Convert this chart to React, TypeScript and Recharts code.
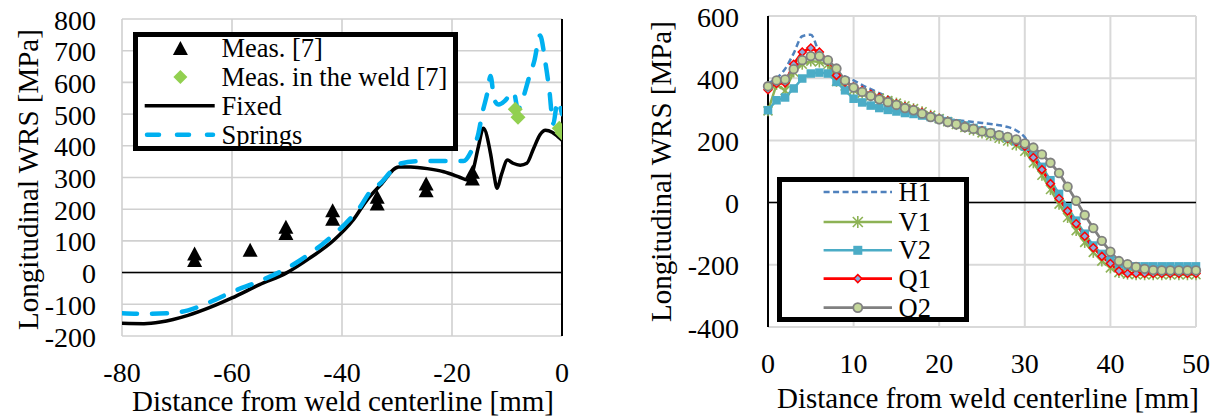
import React from 'react';
import {
  ComposedChart,
  LineChart,
  Line,
  Scatter,
  XAxis,
  YAxis,
  CartesianGrid,
  ReferenceLine,
} from 'recharts';

const FONT = '"Liberation Serif", "Times New Roman", Times, serif';

// ---------- left chart data ----------
const leftXTicks = [-80, -60, -40, -20, 0];
const leftYTicks = [-200, -100, 0, 100, 200, 300, 400, 500, 600, 700, 800];

const measX = [-66.8, -66.8, -56.7, -50.2, -50.2, -41.7, -41.7, -33.6, -33.6, -24.7, -24.7, -16.3, -16.3];
const measY = [60, 40, 72, 145, 125, 197, 170, 239, 218, 281, 260, 318, 297];

const weldX = [-8.5, -8.0, -0.5, 0];
const weldY = [515, 490, 455, 440];

const fixedX = [-80, -76, -73, -68, -64, -60, -55, -50, -46, -41.5, -38, -35.5, -33, -29.7, -27.5, -24.5, -21.5, -18.5, -17.2, -16.3, -15.2, -14.3, -13.0, -12.4, -11.8, -11, -9.9, -8.9, -7.6, -6.4, -5.2, -4, -3, -1.8, -0.8, 0];
const fixedY = [-160, -161, -156, -135, -110, -80, -38, 0, 44, 102, 165, 228, 276, 333, 333, 328, 318, 300, 292, 315, 397, 455, 376, 313, 266, 310, 355, 345, 339, 345, 390, 435, 449, 443, 430, 418];

const springsX = [-80, -76, -71, -68, -64, -60, -55, -51.3, -47.6, -43.4, -39.7, -36.7, -34.9, -33, -30.6, -29.4, -26.4, -21.5, -17.9, -16.4, -15.2, -14.5, -13.6, -13, -12.3, -11.5, -10.5, -9.5, -8.8, -8, -7.2, -6, -5, -4, -3, -2.3, -1.6, -0.8, 0];
const springsY = [-128, -130, -128, -119, -93, -61, -27, 2, 39, 92, 149, 207, 255, 282, 328, 344, 351, 352, 352, 386, 439, 502, 565, 620, 545, 530, 540, 560, 570, 515, 545, 615, 670, 748, 660, 575, 470, 540, 500];

// ---------- right chart data ----------
const rightXTicks = [0, 10, 20, 30, 40, 50];
const rightYTicks = [-400, -200, 0, 200, 400, 600];

const distance = [0, 1, 2, 3, 4, 5, 6, 7, 8, 9, 10, 11, 12, 13, 14, 15, 16, 17, 18, 19, 20, 21, 22, 23, 24, 25, 26, 27, 28, 29, 30, 31, 32, 33, 34, 35, 36, 37, 38, 39, 40, 41, 42, 43, 44, 45, 46, 47, 48, 49, 50];

const h1 = [383, 400, 430, 480, 535, 540, 480, 440, 420, 405, 393, 378, 365, 352, 340, 328, 316, 304, 293, 283, 275, 269, 265, 262, 259, 256, 253, 249, 243, 232, 210, 165, 110, 62, 18, -35, -78, -116, -145, -165, -185, -198, -205, -210, -210, -210, -210, -210, -210, -210, -210];
const v1 = [295, 380, 360, 420, 445, 455, 452, 445, 390, 375, 362, 352, 343, 336, 328, 320, 311, 302, 292, 281, 270, 260, 251, 242, 233, 224, 216, 207, 198, 185, 165, 128, 88, 42, -5, -48, -90, -128, -160, -188, -210, -225, -230, -232, -232, -232, -232, -232, -232, -232, -232];
const v2 = [297, 329, 338, 367, 399, 415, 418, 415, 388, 361, 334, 322, 312, 304, 298, 293, 288, 285, 280, 275, 269, 262, 255, 248, 240, 232, 225, 217, 208, 197, 180, 150, 115, 72, 28, -15, -58, -100, -138, -165, -185, -198, -203, -205, -205, -205, -205, -205, -205, -205, -205];
const q1 = [363, 383, 385, 445, 484, 497, 484, 455, 409, 388, 372, 360, 348, 338, 328, 318, 308, 300, 290, 279, 270, 261, 253, 245, 238, 231, 224, 216, 207, 196, 181, 145, 106, 61, 13, -27, -68, -108, -145, -173, -196, -220, -228, -228, -228, -228, -228, -228, -228, -228, -228];
const q2 = [374, 393, 396, 429, 458, 471, 471, 458, 431, 393, 370, 356, 343, 332, 323, 314, 304, 297, 286, 275, 268, 259, 252, 243, 237, 229, 224, 217, 211, 203, 190, 177, 155, 128, 95, 51, 6, -40, -82, -123, -158, -188, -198, -207, -213, -217, -218, -218, -218, -218, -218];

const C = {
  springs: '#00B0F0',
  weld: '#92D050',
  h1: '#4F81BD',
  v1: '#8DB255',
  v2: '#4BACC6',
  q1: '#FF0000',
  q1Fill: '#8EA9DB',
  q2: '#808080',
  q2Fill: '#C4D79B',
};

// ---------- marker shapes ----------
function Triangle({ cx, cy }: any) {
  if (cx == null || cy == null) return null;
  return <polygon points={`${cx},${cy - 7} ${cx - 7.5},${cy + 7} ${cx + 7.5},${cy + 7}`} fill="#000" />;
}

function Diamond({ cx, cy, r = 7, fill = C.weld, stroke = 'none', sw = 0 }: any) {
  if (cx == null || cy == null) return null;
  return (
    <polygon
      points={`${cx},${cy - r} ${cx + r},${cy} ${cx},${cy + r} ${cx - r},${cy}`}
      fill={fill}
      stroke={stroke}
      strokeWidth={sw}
    />
  );
}

function Star({ cx, cy, r = 4.5 }: any) {
  if (cx == null || cy == null) return null;
  return (
    <g stroke={C.v1} strokeWidth={1.6}>
      <line x1={cx - r} y1={cy - r} x2={cx + r} y2={cy + r} />
      <line x1={cx - r} y1={cy + r} x2={cx + r} y2={cy - r} />
      <line x1={cx} y1={cy - r - 1} x2={cx} y2={cy + r + 1} />
    </g>
  );
}

function Square({ cx, cy, s = 8.5 }: any) {
  if (cx == null || cy == null) return null;
  return <rect x={cx - s / 2} y={cy - s / 2} width={s} height={s} fill={C.v2} />;
}

function Circle({ cx, cy, r = 4.3 }: any) {
  if (cx == null || cy == null) return null;
  return <circle cx={cx} cy={cy} r={r} fill={C.q2Fill} stroke={C.q2} strokeWidth={1.8} />;
}

// ---------- ticks ----------
const tickStyle: React.CSSProperties = { fontFamily: FONT, fontSize: 28 };

const makeYTick = (gap: number) => (props: any) => {
  const { x, y, payload } = props;
  return (
    <text x={x - gap} y={y + 1} textAnchor="end" dominantBaseline="central" style={tickStyle} fill="#000">
      {payload.value}
    </text>
  );
};

const makeXTick = (drop: number) => (props: any) => {
  const { x, y, payload } = props;
  return (
    <text x={x} y={y + drop} textAnchor="middle" dominantBaseline="central" style={tickStyle} fill="#000">
      {payload.value}
    </text>
  );
};

const textStyle: React.CSSProperties = {
  position: 'absolute',
  fontFamily: FONT,
  fontSize: 29,
  lineHeight: '25px',
  height: 25,
  color: '#000',
  whiteSpace: 'nowrap',
  textAlign: 'center',
};

function AxisTitleX({ cx, cy, text }: { cx: number; cy: number; text: string }) {
  return <div style={{ ...textStyle, left: cx - 250, top: cy - 12.5, width: 500 }}>{text}</div>;
}

function AxisTitleY({ cx, cy, text }: { cx: number; cy: number; text: string }) {
  return (
    <div style={{ ...textStyle, left: cx - 200, top: cy - 12.5, width: 400, transform: 'rotate(-90deg)' }}>
      {text}
    </div>
  );
}

const legendText: React.CSSProperties = {
  position: 'absolute',
  fontFamily: FONT,
  fontSize: 26.5,
  lineHeight: '28px',
  whiteSpace: 'nowrap',
  color: '#000',
};

function LeftLegend() {
  const rows = [16, 45, 73.7, 102.7];
  const labels = ['Meas. [7]', 'Meas. in the weld [7]', 'Fixed', 'Springs'];
  return (
    <div
      style={{
        position: 'absolute',
        left: 133,
        top: 32,
        width: 325,
        height: 119,
        border: '5px solid #000',
        boxSizing: 'border-box',
        background: '#fff',
      }}
    >
      <svg width={315} height={109} style={{ position: 'absolute', left: 0, top: 0 }}>
        <Triangle cx={42.4} cy={rows[0] - 5} />
        <Diamond cx={42.4} cy={rows[1] - 5} r={7} />
        <line x1={6.7} x2={76.7} y1={rows[2] - 5} y2={rows[2] - 5} stroke="#000" strokeWidth={3.5} />
        <line x1={9} x2={75} y1={rows[3] - 5} y2={rows[3] - 5} stroke={C.springs} strokeWidth={4.5} strokeDasharray="12 18" strokeLinecap="round" />
      </svg>
      {labels.map((l, i) => (
        <div key={l} style={{ ...legendText, left: 83.4, top: rows[i] - 5 - 14 }}>
          {l}
        </div>
      ))}
    </div>
  );
}

function RightLegend() {
  const rows = [15, 45, 73.3, 101.6, 130.6];
  const labels = ['H1', 'V1', 'V2', 'Q1', 'Q2'];
  const x1 = 41.6;
  const x2 = 110;
  const mx = (x1 + x2) / 2;
  return (
    <div
      style={{
        position: 'absolute',
        left: 777,
        top: 177,
        width: 192,
        height: 145,
        border: '5px solid #000',
        boxSizing: 'border-box',
        background: '#fff',
      }}
    >
      <svg width={182} height={135} style={{ position: 'absolute', left: 0, top: 0 }}>
        <line x1={x1} x2={x2} y1={rows[0] - 5} y2={rows[0] - 5} stroke={C.h1} strokeWidth={2.5} strokeDasharray="6 3.5" />
        <line x1={x1} x2={x2} y1={rows[1] - 5} y2={rows[1] - 5} stroke={C.v1} strokeWidth={2.5} />
        <Star cx={mx} cy={rows[1] - 5} r={5} />
        <line x1={x1} x2={x2} y1={rows[2] - 5} y2={rows[2] - 5} stroke={C.v2} strokeWidth={2.5} />
        <Square cx={mx} cy={rows[2] - 5} s={9} />
        <line x1={x1} x2={x2} y1={rows[3] - 5} y2={rows[3] - 5} stroke={C.q1} strokeWidth={2.8} />
        <Diamond cx={mx} cy={rows[3] - 5} r={4} fill={C.q1Fill} stroke={C.q1} sw={1.5} />
        <line x1={x1} x2={x2} y1={rows[4] - 5} y2={rows[4] - 5} stroke={C.q2} strokeWidth={2.8} />
        <Circle cx={mx} cy={rows[4] - 5} r={4.5} />
      </svg>
      {labels.map((l, i) => (
        <div key={l} style={{ ...legendText, left: 116.6, top: rows[i] - 5 - 14 }}>
          {l}
        </div>
      ))}
    </div>
  );
}

export default function App() {
  const measData = measX.map((x, i) => ({ x, y: measY[i] }));
  const weldData = weldX.map((x, i) => ({ x, y: weldY[i] }));
  const fixedData = fixedX.map((x, i) => ({ x, y: fixedY[i] }));
  const springsData = springsX.map((x, i) => ({ x, y: springsY[i] }));
  const rightData = distance.map((d, i) => ({ d, h1: h1[i], v1: v1[i], v2: v2[i], q1: q1[i], q2: q2[i] }));

  return (
    <div
      style={{
        position: 'absolute',
        left: 0,
        top: 0,
        width: 1215,
        height: 416,
        background: '#fff',
        overflow: 'hidden',
        fontFamily: FONT,
      }}
    >
      {/* left chart */}
      <div style={{ position: 'absolute', left: 0, top: 0 }}>
        <ComposedChart width={600} height={416} margin={{ top: 19, right: 38, bottom: 0, left: 0 }}>
          <CartesianGrid stroke="#D0D0D0" strokeWidth={1.6} verticalValues={leftXTicks} horizontalValues={leftYTicks} />
          <XAxis
            type="number"
            dataKey="x"
            domain={[-80, 0]}
            ticks={leftXTicks}
            allowDataOverflow
            height={80}
            axisLine={false}
            tickLine={false}
            tickSize={0}
            tickMargin={0}
            tick={makeXTick(36)}
            interval={0}
          />
          <YAxis
            type="number"
            dataKey="y"
            domain={[-200, 800]}
            ticks={leftYTicks}
            allowDataOverflow
            width={122}
            axisLine={false}
            tickLine={false}
            tickSize={0}
            tickMargin={0}
            tick={makeYTick(26)}
            interval={0}
          />
          <ReferenceLine y={0} stroke="#000" strokeWidth={1.5} />
          <ReferenceLine x={0} stroke="#000" strokeWidth={2} />
          <Line data={fixedData} dataKey="y" type="monotone" stroke="#000" strokeWidth={3.5} dot={false} activeDot={false} isAnimationActive={false} />
          <Line data={springsData} dataKey="y" type="monotone" stroke={C.springs} strokeWidth={4.5} strokeDasharray="15 15" strokeLinecap="round" dot={false} activeDot={false} isAnimationActive={false} />
          <Scatter data={measData} dataKey="y" isAnimationActive={false} shape={(p: any) => <Triangle cx={p.cx} cy={p.cy} />} />
          <Scatter data={weldData} dataKey="y" isAnimationActive={false} shape={(p: any) => <Diamond cx={p.cx} cy={p.cy} r={7.5} />} />
        </ComposedChart>
      </div>
      <AxisTitleX cx={343} cy={401} text="Distance from weld centerline [mm]" />
      <AxisTitleY cx={28} cy={179} text="Longitudinal WRS [MPa]" />
      <LeftLegend />

      {/* right chart */}
      <div style={{ position: 'absolute', left: 615, top: 0 }}>
        <LineChart width={600} height={416} data={rightData} margin={{ top: 16, right: 19, bottom: 0, left: 0 }}>
          <CartesianGrid stroke="#D9D9D9" strokeWidth={2} verticalValues={rightXTicks} horizontalValues={rightYTicks} />
          <XAxis
            type="number"
            dataKey="d"
            domain={[0, 50]}
            ticks={rightXTicks}
            height={89}
            axisLine={false}
            tickLine={false}
            tickSize={0}
            tickMargin={0}
            tick={makeXTick(36.5)}
            interval={0}
          />
          <YAxis
            type="number"
            domain={[-400, 600]}
            ticks={rightYTicks}
            width={153}
            axisLine={{ stroke: '#000', strokeWidth: 2 }}
            tickLine={false}
            tickSize={0}
            tickMargin={0}
            tick={makeYTick(29)}
            interval={0}
          />
          <ReferenceLine y={0} stroke="#000" strokeWidth={1.5} />
          <Line dataKey="h1" type="monotone" stroke={C.h1} strokeWidth={2.5} strokeDasharray="6 3.5" dot={false} activeDot={false} isAnimationActive={false} />
          <Line dataKey="v1" stroke={C.v1} strokeWidth={2.5} dot={(p: any) => <Star key={`v1-${p.index}`} cx={p.cx} cy={p.cy} />} activeDot={false} isAnimationActive={false} />
          <Line dataKey="v2" stroke={C.v2} strokeWidth={2.5} dot={(p: any) => <Square key={`v2-${p.index}`} cx={p.cx} cy={p.cy} />} activeDot={false} isAnimationActive={false} />
          <Line dataKey="q1" stroke={C.q1} strokeWidth={2.8} dot={(p: any) => <Diamond key={`q1-${p.index}`} cx={p.cx} cy={p.cy} r={4} fill={C.q1Fill} stroke={C.q1} sw={1.5} />} activeDot={false} isAnimationActive={false} />
          <Line dataKey="q2" stroke={C.q2} strokeWidth={2.8} dot={(p: any) => <Circle key={`q2-${p.index}`} cx={p.cx} cy={p.cy} />} activeDot={false} isAnimationActive={false} />
        </LineChart>
      </div>
      <AxisTitleX cx={988} cy={398.5} text="Distance from weld centerline [mm]" />
      <AxisTitleY cx={661} cy={171} text="Longitudinal WRS [MPa]" />
      <RightLegend />
    </div>
  );
}
